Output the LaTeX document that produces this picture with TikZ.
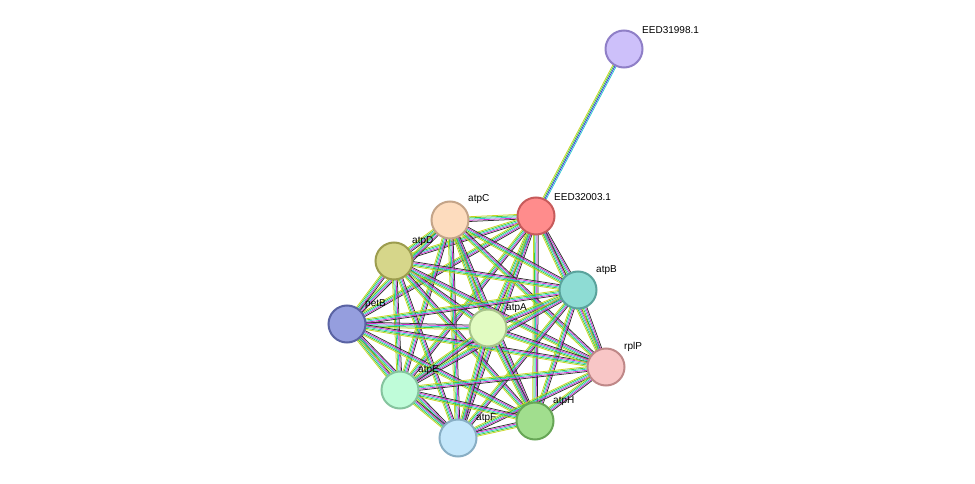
\documentclass[tikz,border=0pt]{standalone}
\usepackage{fontspec}
\setmainfont{Liberation Sans}
\usetikzlibrary{calc}
\definecolor{cyg}{HTML}{C8D420}
\definecolor{cgr}{HTML}{3FCC3F}
\definecolor{ccy}{HTML}{30C8D0}
\definecolor{cmg}{HTML}{D030D0}
\definecolor{cbl}{HTML}{3030E0}
\definecolor{cbk}{HTML}{303030}
\tikzset{
  prot/.style={circle,minimum size=37pt,inner sep=0pt,line width=2pt},
  lab/.style={font=\fontsize{10pt}{10pt}\selectfont,inner sep=0pt,anchor=south west},
  ed/.style={line width=0.75pt}
}
\newcommand{\myedge}[2]{%
  \foreach \o/\c in {-2.4/cyg,-1.2/cgr,0/ccy,1.2/cmg,2.4/cbk}{%
    \draw[ed,\c] ($(#1)!\o pt!90:(#2)$) -- ($(#2)!\o pt!-90:(#1)$);}}
\begin{document}
\begin{tikzpicture}[x=1pt,y=-1pt]
\useasboundingbox (0,0) rectangle (975,484);
\coordinate (n1) at (624,49);
\coordinate (n2) at (536,216);
\coordinate (n3) at (450,220);
\coordinate (n4) at (394,261);
\coordinate (n5) at (578,290);
\coordinate (n6) at (347,324);
\coordinate (n7) at (488,328);
\coordinate (n8) at (606,367);
\coordinate (n9) at (400,390);
\coordinate (n10) at (458,438);
\coordinate (n11) at (535,421);
\foreach \o/\c in {-2.4/cyg,-1.2/cgr,0/cbl,1.2/ccy}{%
  \draw[ed,\c] ($(n1)!\o pt!90:(n2)$) -- ($(n2)!\o pt!-90:(n1)$);}
\foreach \a in {2,...,11}{
  \foreach \b in {2,...,11}{
    \ifnum\a<\b \myedge{n\a}{n\b}\fi
  }}
\node[prot,fill={rgb,255:red,205;green,192;blue,250},draw={rgb,255:red,143;green,127;blue,199}] (EED31998) at (n1) {};
\node[prot,fill={rgb,255:red,255;green,140;blue,140},draw={rgb,255:red,199;green,91;blue,91}] (EED32003) at (n2) {};
\node[prot,fill={rgb,255:red,253;green,220;blue,190},draw={rgb,255:red,196;green,164;blue,136}] (atpC) at (n3) {};
\node[prot,fill={rgb,255:red,214;green,214;blue,138},draw={rgb,255:red,156;green,156;blue,78}] (atpD) at (n4) {};
\node[prot,fill={rgb,255:red,142;green,220;blue,212},draw={rgb,255:red,90;green,163;blue,156}] (atpB) at (n5) {};
\node[prot,fill={rgb,255:red,149;green,158;blue,222},draw={rgb,255:red,90;green,99;blue,163}] (petB) at (n6) {};
\node[prot,fill={rgb,255:red,225;green,251;blue,193},draw={rgb,255:red,167;green,195;blue,138}] (atpA) at (n7) {};
\node[prot,fill={rgb,255:red,248;green,198;blue,198},draw={rgb,255:red,191;green,136;blue,136}] (rplP) at (n8) {};
\node[prot,fill={rgb,255:red,191;green,252;blue,217},draw={rgb,255:red,133;green,196;blue,158}] (atpE) at (n9) {};
\node[prot,fill={rgb,255:red,195;green,230;blue,250},draw={rgb,255:red,136;green,174;blue,196}] (atpF) at (n10) {};
\node[prot,fill={rgb,255:red,161;green,222;blue,142},draw={rgb,255:red,103;green,166;blue,86}] (atpH) at (n11) {};
\node[lab] at (642,34) {EED31998.1};
\node[lab] at (554,201) {EED32003.1};
\node[lab] at (468,204) {atpC};
\node[lab] at (412,246) {atpD};
\node[lab] at (596,275) {atpB};
\node[lab] at (365,309) {petB};
\node[lab] at (506,313) {atpA};
\node[lab] at (624,352) {rplP};
\node[lab] at (418,375) {atpE};
\node[lab] at (476,423) {atpF};
\node[lab] at (553,406) {atpH};
\end{tikzpicture}
\end{document}
